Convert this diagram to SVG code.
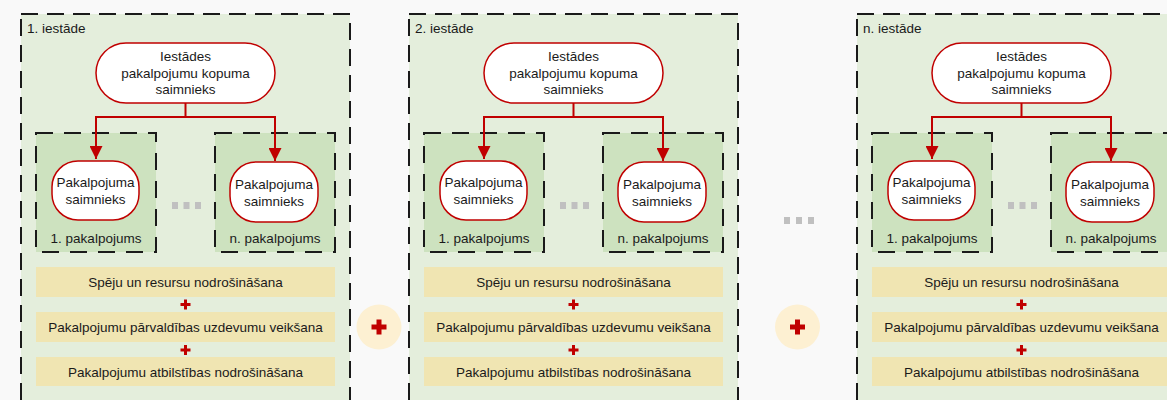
<svg xmlns="http://www.w3.org/2000/svg" width="1167" height="400" viewBox="0 0 1167 400">
<defs>
<style>
.bg{fill:#f9f9f9}
.panel{fill:#e4eedc;stroke:#1a1a1a;stroke-width:2;stroke-dasharray:17 9}
.svc{fill:#cde2bf;stroke:#1a1a1a;stroke-width:2;stroke-dasharray:17 11}
.own{fill:#fff;stroke:#c00000;stroke-width:1.5}
.bar{fill:#f0e5b2}
.t{font-family:"Liberation Sans",Arial,sans-serif;font-size:13.5px;fill:#1a1a1a}
.c{text-anchor:middle}
.conn{fill:none;stroke:#c00000;stroke-width:2}
.dot{fill:#c0c0c0}
.plus{fill:#c00000}
.pc{fill:#fdf0d2}
</style>
<marker id="ah" viewBox="0 0 13 13" refX="13" refY="6.5" markerWidth="13" markerHeight="13" markerUnits="userSpaceOnUse" orient="auto">
<path d="M0,0 L13,6.5 L0,13 Z" fill="#c00000"/>
</marker>
<path id="bigplus" d="M-2.5,-7.5 h5 v5 h5 v5 h-5 v5 h-5 v-5 h-5 v-5 h5 Z"/>
<path id="smallplus" d="M-1.5,-5 h3 v3.5 h3.5 v3 h-3.5 v3.5 h-3 v-3.5 h-3.5 v-3 h3.5 Z"/>
</defs>
<rect class="bg" x="0" y="0" width="1167" height="400"/>

<g id="panel1">
<rect class="panel" x="21" y="14" width="329" height="410"/>
<text class="t" x="27" y="33">1. iestāde</text>
<g id="p1-owner">
<rect class="own" x="96" y="43" width="179" height="60" rx="30"/>
<text class="t c" x="185.5" y="61">Iestādes</text>
<text class="t c" x="185.5" y="78">pakalpojumu kopuma</text>
<text class="t c" x="185.5" y="94">saimnieks</text>
</g>
<g id="p1-svc1">
<rect class="svc" x="36" y="133" width="120" height="119"/>
<rect class="own" x="52" y="161" width="87" height="59" rx="26"/>
<text class="t c" x="95.5" y="187">Pakalpojuma</text>
<text class="t c" x="95.5" y="204">saimnieks</text>
<text class="t c" x="96" y="243">1. pakalpojums</text>
</g>
<g id="p1-svcn">
<rect class="svc" x="215" y="133" width="120" height="119"/>
<rect class="own" x="230" y="162" width="88" height="60" rx="26"/>
<text class="t c" x="274" y="189">Pakalpojuma</text>
<text class="t c" x="274" y="206">saimnieks</text>
<text class="t c" x="275" y="243">n. pakalpojums</text>
</g>
<g id="p1-dots">
<rect class="dot" x="172" y="202" width="6" height="7"/>
<rect class="dot" x="183.5" y="202" width="6" height="7"/>
<rect class="dot" x="195" y="202" width="6" height="7"/>
</g>
<g id="p1-tasks">
<rect class="bar" x="36" y="267" width="299" height="30"/>
<text class="t c" x="185.5" y="287">Spēju un resursu nodrošināšana</text>
<use href="#smallplus" class="plus" x="185.5" y="304.5"/>
<rect class="bar" x="36" y="312" width="299" height="30"/>
<text class="t c" x="185.5" y="332">Pakalpojumu pārvaldības uzdevumu veikšana</text>
<use href="#smallplus" class="plus" x="185.5" y="350"/>
<rect class="bar" x="36" y="357" width="299" height="29"/>
<text class="t c" x="185.5" y="376.5">Pakalpojumu atbilstības nodrošināšana</text>
</g>
</g>

<g id="panel2">
<rect class="panel" x="409" y="14" width="329" height="410"/>
<text class="t" x="415" y="33">2. iestāde</text>
<g id="p2-owner">
<rect class="own" x="484" y="43" width="179" height="60" rx="30"/>
<text class="t c" x="573.5" y="61">Iestādes</text>
<text class="t c" x="573.5" y="78">pakalpojumu kopuma</text>
<text class="t c" x="573.5" y="94">saimnieks</text>
</g>
<g id="p2-svc1">
<rect class="svc" x="424" y="133" width="120" height="119"/>
<rect class="own" x="440" y="161" width="87" height="59" rx="26"/>
<text class="t c" x="483.5" y="187">Pakalpojuma</text>
<text class="t c" x="483.5" y="204">saimnieks</text>
<text class="t c" x="484" y="243">1. pakalpojums</text>
</g>
<g id="p2-svcn">
<rect class="svc" x="603" y="133" width="120" height="119"/>
<rect class="own" x="618" y="162" width="88" height="60" rx="26"/>
<text class="t c" x="662" y="189">Pakalpojuma</text>
<text class="t c" x="662" y="206">saimnieks</text>
<text class="t c" x="663" y="243">n. pakalpojums</text>
</g>
<g id="p2-dots">
<rect class="dot" x="560" y="202" width="6" height="7"/>
<rect class="dot" x="571.5" y="202" width="6" height="7"/>
<rect class="dot" x="583" y="202" width="6" height="7"/>
</g>
<g id="p2-tasks">
<rect class="bar" x="424" y="267" width="299" height="30"/>
<text class="t c" x="573.5" y="287">Spēju un resursu nodrošināšana</text>
<use href="#smallplus" class="plus" x="573.5" y="304.5"/>
<rect class="bar" x="424" y="312" width="299" height="30"/>
<text class="t c" x="573.5" y="332">Pakalpojumu pārvaldības uzdevumu veikšana</text>
<use href="#smallplus" class="plus" x="573.5" y="350"/>
<rect class="bar" x="424" y="357" width="299" height="29"/>
<text class="t c" x="573.5" y="376.5">Pakalpojumu atbilstības nodrošināšana</text>
</g>
</g>

<g id="panel3">
<rect class="panel" x="857" y="14" width="329" height="410"/>
<text class="t" x="863" y="33">n. iestāde</text>
<g id="p3-owner">
<rect class="own" x="932" y="43" width="179" height="60" rx="30"/>
<text class="t c" x="1021.5" y="61">Iestādes</text>
<text class="t c" x="1021.5" y="78">pakalpojumu kopuma</text>
<text class="t c" x="1021.5" y="94">saimnieks</text>
</g>
<g id="p3-svc1">
<rect class="svc" x="872" y="133" width="120" height="119"/>
<rect class="own" x="888" y="161" width="87" height="59" rx="26"/>
<text class="t c" x="931.5" y="187">Pakalpojuma</text>
<text class="t c" x="931.5" y="204">saimnieks</text>
<text class="t c" x="932" y="243">1. pakalpojums</text>
</g>
<g id="p3-svcn">
<rect class="svc" x="1051" y="133" width="120" height="119"/>
<rect class="own" x="1066" y="162" width="88" height="60" rx="26"/>
<text class="t c" x="1110" y="189">Pakalpojuma</text>
<text class="t c" x="1110" y="206">saimnieks</text>
<text class="t c" x="1111" y="243">n. pakalpojums</text>
</g>
<g id="p3-dots">
<rect class="dot" x="1008" y="202" width="6" height="7"/>
<rect class="dot" x="1019.5" y="202" width="6" height="7"/>
<rect class="dot" x="1031" y="202" width="6" height="7"/>
</g>
<g id="p3-tasks">
<rect class="bar" x="872" y="267" width="299" height="30"/>
<text class="t c" x="1021.5" y="287">Spēju un resursu nodrošināšana</text>
<use href="#smallplus" class="plus" x="1021.5" y="304.5"/>
<rect class="bar" x="872" y="312" width="299" height="30"/>
<text class="t c" x="1021.5" y="332">Pakalpojumu pārvaldības uzdevumu veikšana</text>
<use href="#smallplus" class="plus" x="1021.5" y="350"/>
<rect class="bar" x="872" y="357" width="299" height="29"/>
<text class="t c" x="1021.5" y="376.5">Pakalpojumu atbilstības nodrošināšana</text>
</g>
</g>

<g id="between">
<g id="plus1">
<circle class="pc" cx="379" cy="327" r="22.5"/>
<use href="#bigplus" class="plus" x="379" y="327"/>
</g>
<g id="plus2">
<circle class="pc" cx="797.5" cy="327" r="22.5"/>
<use href="#bigplus" class="plus" x="797.5" y="327"/>
</g>
<g id="dots-mid">
<rect class="dot" x="784" y="217" width="6" height="7"/>
<rect class="dot" x="796" y="217" width="6" height="7"/>
<rect class="dot" x="808" y="217" width="6" height="7"/>
</g>
</g>

<g id="connectors">
<path class="conn" d="M185.5,103 V117 H96 V159" marker-end="url(#ah)"/>
<path class="conn" d="M185.5,117 H275 V161" marker-end="url(#ah)"/>
<path class="conn" d="M573.5,103 V117 H484 V159" marker-end="url(#ah)"/>
<path class="conn" d="M573.5,117 H663 V161" marker-end="url(#ah)"/>
<path class="conn" d="M1021.5,103 V117 H932 V159" marker-end="url(#ah)"/>
<path class="conn" d="M1021.5,117 H1111 V161" marker-end="url(#ah)"/>
</g>
</svg>
